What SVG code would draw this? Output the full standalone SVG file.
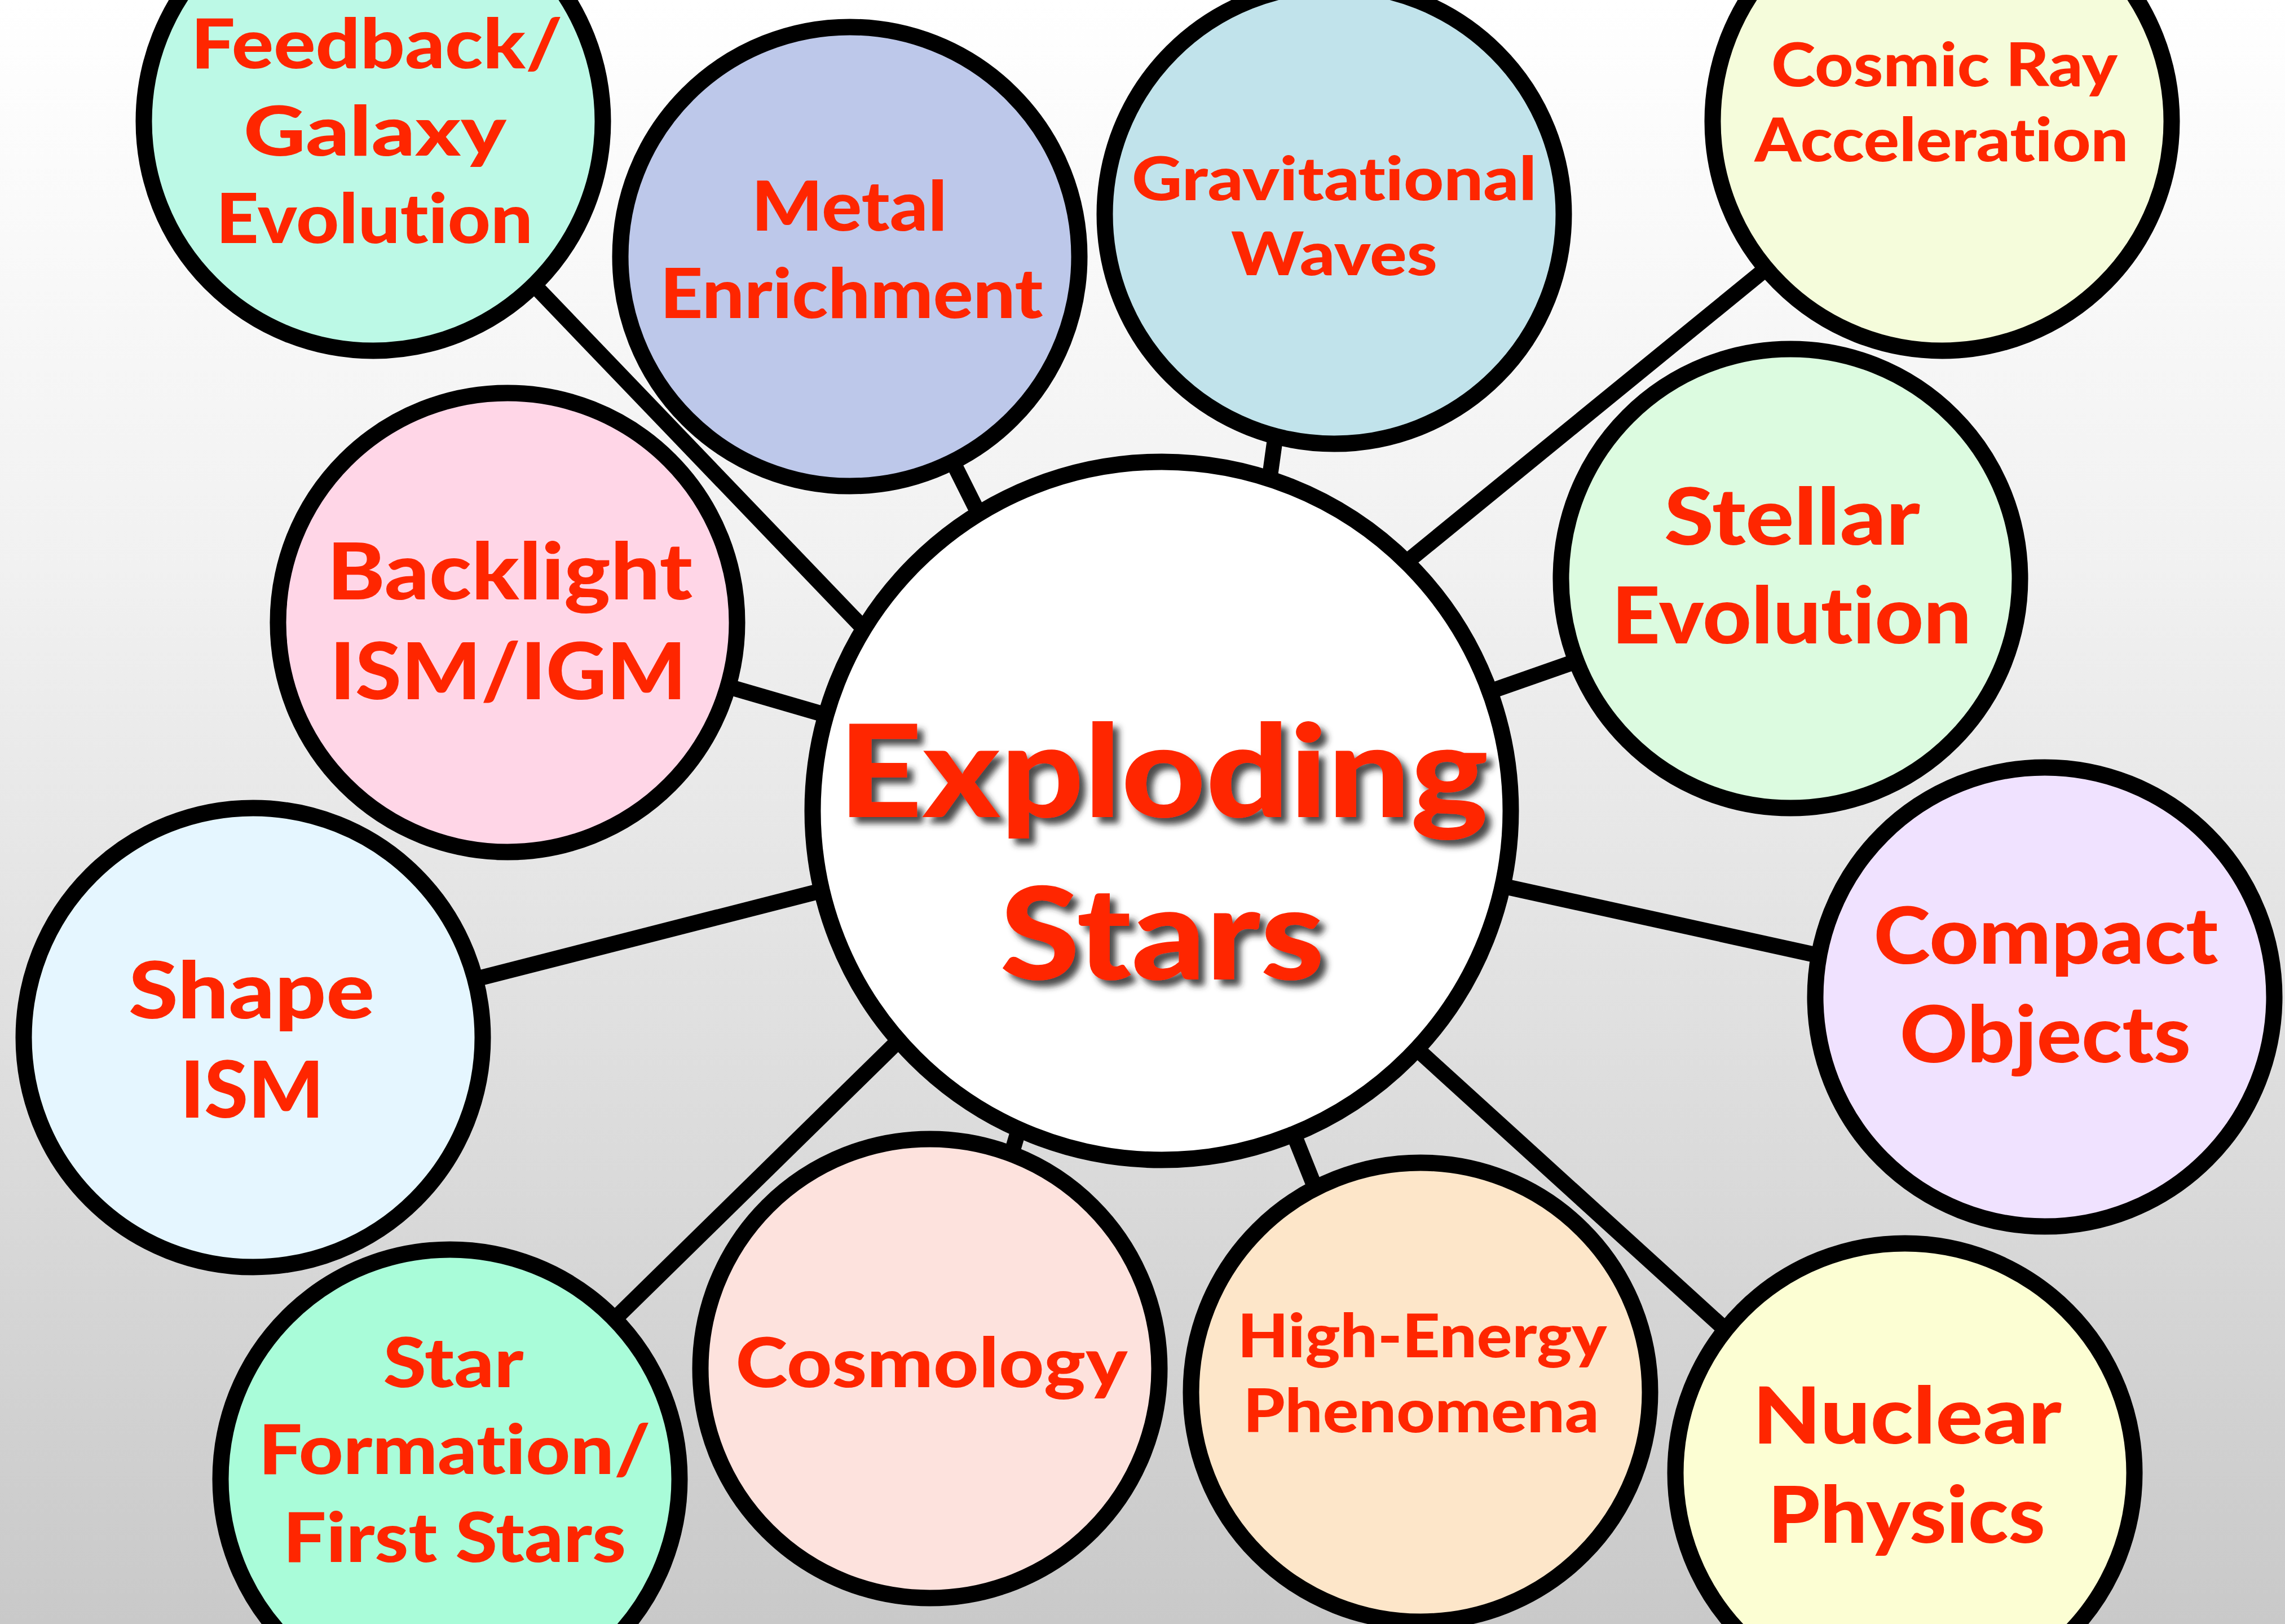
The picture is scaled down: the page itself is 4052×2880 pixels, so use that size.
<svg xmlns="http://www.w3.org/2000/svg" width="4052" height="2880" viewBox="0 0 4052 2880">
  <style>
    .ring { stroke: #000; stroke-width: 29; }
    .link { stroke: #000; stroke-width: 28; stroke-linecap: butt; fill: none; }
    .lbl { font-family: "Lato", "Liberation Sans", sans-serif; font-weight: 900; fill: #ff2600; text-anchor: middle; font-variant-ligatures: none; font-feature-settings: "liga" 0, "clig" 0; }
    .s107 { font-size: 107px; }
    .s122 { font-size: 122px; }
    .s140 { font-size: 140px; }
    .big { font-size: 228px; }
  </style>
  <defs>
    <linearGradient id="bg" x1="0" y1="0" x2="0" y2="1">
      <stop offset="0" stop-color="#ffffff"/>
      <stop offset="0.35" stop-color="#f1f1f1"/>
      <stop offset="1" stop-color="#c9c9c9"/>
    </linearGradient>
    <filter id="dropShadow" x="-10%" y="-20%" width="130%" height="150%">
      <feGaussianBlur in="SourceAlpha" stdDeviation="6" result="blur"/>
      <feOffset in="blur" dx="11" dy="11" result="off"/>
      <feFlood flood-color="#2a2a2a" flood-opacity="0.85"/>
      <feComposite in2="off" operator="in" result="shadow"/>
      <feMerge>
        <feMergeNode in="shadow"/>
        <feMergeNode in="SourceGraphic"/>
      </feMerge>
    </filter>
  </defs>

  <rect x="0" y="0" width="4052" height="2880" fill="url(#bg)"/>

  <!-- spokes from the hub to each topic (ends hidden under the discs) -->
  <g id="connectors">
    <line class="link" x1="798" y1="350" x2="1700" y2="1290"/>
    <line class="link" x1="1640" y1="720" x2="1790" y2="1020"/>
    <line class="link" x1="2290" y1="570" x2="2222" y2="1060"/>
    <line class="link" x1="3250" y1="380" x2="2380" y2="1090"/>
    <line class="link" x1="2500" y1="1276" x2="2900" y2="1136"/>
    <line class="link" x1="2500" y1="1535" x2="3400" y2="1733"/>
    <line class="link" x1="2400" y1="1758" x2="3150" y2="2440"/>
    <line class="link" x1="2240" y1="1876" x2="2380" y2="2226"/>
    <line class="link" x1="1840" y1="1890" x2="1760" y2="2160"/>
    <line class="link" x1="1650" y1="1790" x2="980" y2="2447"/>
    <line class="link" x1="700" y1="1773" x2="1600" y2="1543"/>
    <line class="link" x1="1100" y1="1162" x2="1650" y2="1322"/>
  </g>

  <g id="node-feedback">
    <circle class="ring" cx="662" cy="215" r="407" fill="#bcf9e6"/>
    <text class="lbl s122" x="668" y="121" textLength="659" lengthAdjust="spacingAndGlyphs">Feedback/</text>
    <text class="lbl s122" x="665" y="276" textLength="466" lengthAdjust="spacingAndGlyphs">Galaxy</text>
    <text class="lbl s122" x="664" y="431" textLength="562" lengthAdjust="spacingAndGlyphs">Evolution</text>
  </g>

  <g id="node-metal">
    <circle class="ring" cx="1507" cy="455" r="407" fill="#bdc8ea"/>
    <text class="lbl s122" x="1506" y="409" textLength="347" lengthAdjust="spacingAndGlyphs">Metal</text>
    <text class="lbl s122" x="1510" y="564" textLength="679" lengthAdjust="spacingAndGlyphs">Enrichment</text>
  </g>

  <g id="node-gravitational">
    <circle class="ring" cx="2366" cy="380" r="407" fill="#c1e3eb"/>
    <text class="lbl s107" x="2366" y="355" textLength="718" lengthAdjust="spacingAndGlyphs">Gravitational</text>
    <text class="lbl s107" x="2366" y="488" textLength="366" lengthAdjust="spacingAndGlyphs">Waves</text>
  </g>

  <g id="node-cosmic-ray">
    <circle class="ring" cx="3444" cy="215" r="407" fill="#f5fcdb"/>
    <text class="lbl s107" x="3448" y="153" textLength="614" lengthAdjust="spacingAndGlyphs">Cosmic Ray</text>
    <text class="lbl s107" x="3443" y="286" textLength="663" lengthAdjust="spacingAndGlyphs">Acceleration</text>
  </g>

  <g id="node-backlight">
    <circle class="ring" cx="900" cy="1104" r="407" fill="#ffd6e7"/>
    <text class="lbl s140" x="904" y="1063" textLength="648" lengthAdjust="spacingAndGlyphs">Backlight</text>
    <text class="lbl s140" x="901" y="1240" textLength="632" lengthAdjust="spacingAndGlyphs">ISM/IGM</text>
  </g>

  <g id="node-stellar">
    <circle class="ring" cx="3175" cy="1026" r="407" fill="#dcfbe0"/>
    <text class="lbl s140" x="3178" y="966" textLength="454" lengthAdjust="spacingAndGlyphs">Stellar</text>
    <text class="lbl s140" x="3177" y="1141" textLength="638" lengthAdjust="spacingAndGlyphs">Evolution</text>
  </g>

  <g id="node-shape">
    <circle class="ring" cx="449" cy="1840" r="407" fill="#e5f6ff"/>
    <text class="lbl s140" x="446" y="1806" textLength="436" lengthAdjust="spacingAndGlyphs">Shape</text>
    <text class="lbl s140" x="447" y="1982" textLength="255" lengthAdjust="spacingAndGlyphs">ISM</text>
  </g>

  <g id="node-compact">
    <circle class="ring" cx="3626" cy="1768" r="407" fill="#f0e2ff"/>
    <text class="lbl s140" x="3628" y="1709" textLength="611" lengthAdjust="spacingAndGlyphs">Compact</text>
    <text class="lbl s140" x="3627" y="1884" textLength="516" lengthAdjust="spacingAndGlyphs">Objects</text>
  </g>

  <g id="node-star-formation">
    <circle class="ring" cx="798" cy="2623" r="407" fill="#a9fcd9"/>
    <text class="lbl s122" x="804" y="2460" textLength="249" lengthAdjust="spacingAndGlyphs">Star</text>
    <text class="lbl s122" x="806" y="2614" textLength="695" lengthAdjust="spacingAndGlyphs">Formation/</text>
    <text class="lbl s122" x="806" y="2770" textLength="608" lengthAdjust="spacingAndGlyphs">First Stars</text>
  </g>

  <g id="node-cosmology">
    <circle class="ring" cx="1649" cy="2427" r="407" fill="#fde2dd"/>
    <text class="lbl s122" x="1652" y="2460" textLength="695" lengthAdjust="spacingAndGlyphs">Cosmology</text>
  </g>

  <g id="node-high-energy">
    <circle class="ring" cx="2519" cy="2469" r="407" fill="#fde6c9"/>
    <text class="lbl s107" x="2522" y="2407" textLength="655" lengthAdjust="spacingAndGlyphs">High-Energy</text>
    <text class="lbl s107" x="2520" y="2540" textLength="631" lengthAdjust="spacingAndGlyphs">Phenomena</text>
  </g>

  <g id="node-nuclear">
    <circle class="ring" cx="3378" cy="2612" r="407" fill="#fcfed3"/>
    <text class="lbl s140" x="3382" y="2560" textLength="548" lengthAdjust="spacingAndGlyphs">Nuclear</text>
    <text class="lbl s140" x="3381" y="2736" textLength="492" lengthAdjust="spacingAndGlyphs">Physics</text>
  </g>

  <g id="node-exploding-stars">
    <circle class="ring" cx="2060" cy="1438" r="619" fill="#ffffff"/>
    <g filter="url(#dropShadow)">
      <text class="lbl big" x="2063" y="1449" textLength="1153" lengthAdjust="spacingAndGlyphs">Exploding</text>
      <text class="lbl big" x="2061" y="1737" textLength="576" lengthAdjust="spacingAndGlyphs">Stars</text>
    </g>
  </g>
</svg>
